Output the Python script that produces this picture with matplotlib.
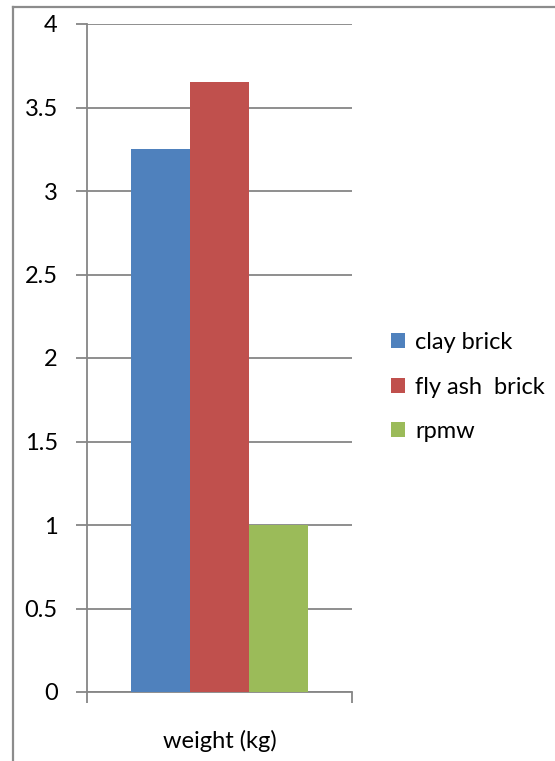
import matplotlib
matplotlib.use("Agg")
import matplotlib.pyplot as plt
from matplotlib.lines import Line2D
from matplotlib.patches import Patch

plt.rcParams['font.family'] = ['Lato', 'DejaVu Sans']

category = "weight (kg)"
series = ["clay brick", "fly ash  brick", "rpmw"]
values = [3.25, 3.65, 1.0]
colors = ["#4F81BD", "#C0504D", "#9BBB59"]
yticks = [0, 0.5, 1, 1.5, 2, 2.5, 3, 3.5, 4]
ytick_labels = ["0", "0.5", "1", "1.5", "2", "2.5", "3", "3.5", "4"]

W, H = 555, 761
FS = 17
fig = plt.figure(figsize=(W / 100, H / 100), dpi=100)
grid_col = "#868686"

# outer chart border (top and left edges)
fig.add_artist(Line2D([13 / W, 1.0], [1 - 7 / H, 1 - 7 / H], color="#8c8c8c", lw=1.6))
fig.add_artist(Line2D([13 / W, 13 / W], [0.0, 1 - 7 / H], color="#8c8c8c", lw=1.6))

x0, x1 = 87, 352
y0, y1 = 692, 24
ax = fig.add_axes([x0 / W, 1 - y0 / H, (x1 - x0) / W, (y0 - y1) / H])

bar_w = 0.2225
offsets = [-1, 0, 1]
for off, v, c, name in zip(offsets, values, colors, series):
    ax.bar(0.5 + off * bar_w, v, width=bar_w, color=c, label=name, zorder=3)

ax.set_xlim(0, 1)
ax.set_ylim(0, 4)
ax.set_yticks(yticks)
ax.set_yticklabels(ytick_labels, fontsize=FS)
ax.yaxis.grid(True, color=grid_col, lw=1.3, zorder=0)
ax.set_xticks([0, 1])
ax.set_xticklabels(["", ""])
ax.tick_params(axis='y', length=8, width=1.3, color=grid_col, pad=13)
ax.tick_params(axis='x', length=8, width=1.3, color=grid_col)
for s in ["top", "right"]:
    ax.spines[s].set_visible(False)
for s in ["left", "bottom"]:
    ax.spines[s].set_color(grid_col)
    ax.spines[s].set_linewidth(1.3)

fig.text((x0 + x1) / 2 / W, 1 - 741 / H, category, ha="center", va="center", fontsize=FS)

handles = [Patch(facecolor=c, edgecolor="none") for c in colors]
fig.legend(handles, series, loc="center left", bbox_to_anchor=(370 / W, 1 - 387 / H),
           frameon=False, fontsize=FS, handlelength=0.6, handleheight=0.6,
           handletextpad=0.42, labelspacing=1.0)

fig.savefig("out.png", dpi=100)
